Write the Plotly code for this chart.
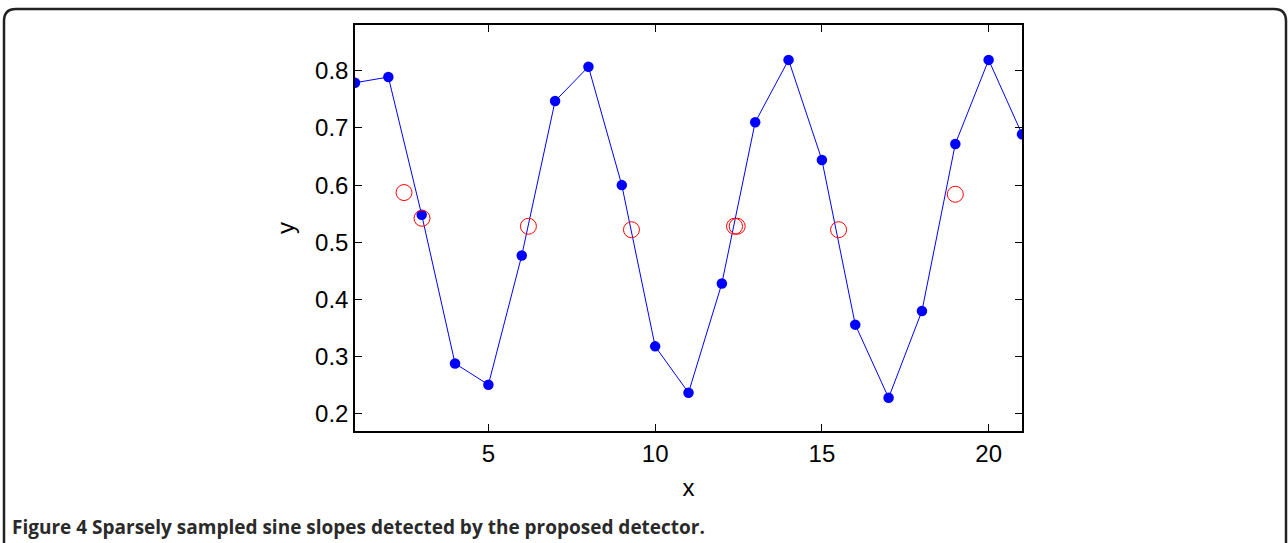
import plotly.graph_objects as go

# Data
x_samples = list(range(1, 22))
y_samples = [0.779, 0.789, 0.548, 0.288, 0.251, 0.477, 0.747, 0.807, 0.600, 0.318,
             0.237, 0.428, 0.710, 0.819, 0.644, 0.356, 0.228, 0.380, 0.672, 0.819, 0.689]
x_detected = [2.47, 3.01, 6.2, 9.29, 12.38, 12.46, 15.5, 19.0]
y_detected = [0.587, 0.542, 0.528, 0.522, 0.528, 0.528, 0.522, 0.584]
x_ticks = [5, 10, 15, 20]
y_ticks = [0.2, 0.3, 0.4, 0.5, 0.6, 0.7, 0.8]

W, H = 1288, 543
L, T = 355, 25
PW, PH = 667, 406
R = W - L - PW
B = H - T - PH

def px(xp):
    return (xp - L) / PW

def py(yp):
    return 1 - (yp - T) / PH

fig = go.Figure()
fig.add_trace(go.Scatter(x=x_samples, y=y_samples, mode="lines+markers",
                         line=dict(color="#0000ff", width=1),
                         marker=dict(color="#0000ff", size=10.5),
                         cliponaxis=True, showlegend=False))
fig.add_trace(go.Scatter(x=x_detected, y=y_detected, mode="markers",
                         marker=dict(symbol="circle-open", color="#ff0000", size=16,
                                     line=dict(width=1)),
                         showlegend=False))

# rounded border box
x0, y0, x1, y1, r = 4, 9, 1286, 570, 12
path = (f"M {px(x0)},{py(y1)} L {px(x0)},{py(y0 + r)} "
        f"Q {px(x0)},{py(y0)} {px(x0 + r)},{py(y0)} "
        f"L {px(x1 - r)},{py(y0)} Q {px(x1)},{py(y0)} {px(x1)},{py(y0 + r)} "
        f"L {px(x1)},{py(y1)}")
fig.add_shape(type="path", path=path, xref="paper", yref="paper",
              line=dict(color="#222222", width=2.5), layer="below")

fig.add_annotation(text="<b>Figure 4 Sparsely sampled sine slopes detected by the proposed detector.</b>",
                   xref="paper", yref="paper", x=px(10), y=py(527),
                   xanchor="left", yanchor="middle", showarrow=False,
                   font=dict(family="Open Sans", size=19, color="#2a2a2a"))

axis_common = dict(showline=True, linecolor="black", linewidth=1.5, mirror="ticks",
                   ticks="inside", ticklen=7, tickcolor="black", tickwidth=1,
                   showgrid=False, zeroline=False,
                   tickfont=dict(family="Liberation Sans", size=24, color="black"),
                   title_font=dict(family="Liberation Sans", size=24, color="black"))

fig.update_layout(
    width=W, height=H,
    margin=dict(l=L, r=R, t=T, b=B),
    paper_bgcolor="white", plot_bgcolor="white",
    xaxis=dict(range=[1, 21], tickvals=x_ticks, title=dict(text="x", standoff=14), **axis_common),
    yaxis=dict(range=[0.17, 0.88], tickvals=y_ticks, tickformat=".1f",
               title=dict(text="y", standoff=14), **axis_common),
)

fig.write_html("out.html", config={"displayModeBar": False},
               post_script="document.body.style.margin='0';document.body.style.overflow='hidden';")
